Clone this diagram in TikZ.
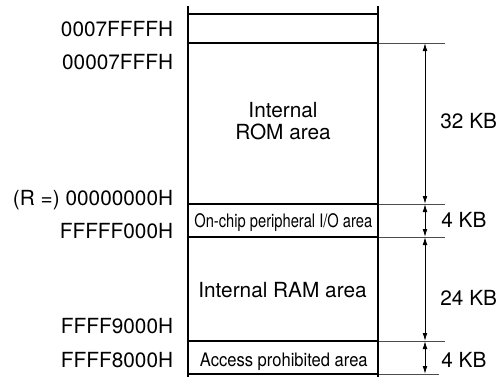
\documentclass[tikz,border=0pt]{standalone}
\usepackage{fontspec}
\setmainfont{TeX Gyre Heros}
\newfontfamily\ionarrow[FakeStretch=0.79]{TeX Gyre Heros}
\newfontfamily\accnarrow[FakeStretch=0.89]{TeX Gyre Heros}
\usetikzlibrary{arrows.meta}

\tikzset{
    wall/.style={black, line width=1.3pt},
    bnd/.style={black, line width=0.65pt},
    ext/.style={black!70, line width=0.45pt},
    dim/.style={black, line width=0.5pt, {Latex[length=4pt,width=2.4pt]}-{Latex[length=4pt,width=2.4pt]}},
    addr/.style={anchor=base east, inner sep=0pt, font=\fontsize{10.4}{11}\selectfont},
    size/.style={anchor=base west, inner sep=0pt, font=\fontsize{10.4}{11}\selectfont},
    area/.style={inner sep=0pt, font=\fontsize{10.4}{11}\selectfont},
}

\begin{document}
\begin{tikzpicture}[x=0.5pt,y=-0.5pt]
    \useasboundingbox (0,0) rectangle (499,377);

    % boundaries of the areas
    \foreach \n/\y in {0/14,1/43,2/204,3/237,4/341,5/374} {
        \coordinate (l\n) at (188,\y);
        \coordinate (r\n) at (378,\y);
        \coordinate (m\n) at (425,\y);
        \coordinate (e\n) at (445,\y);
    }
    \coordinate (e5) at (439,374);
    \draw [bnd] (l0) -- (r0);
    \foreach \n in {1,...,5} {
        \draw [bnd] (l\n) -- (r\n);
        \draw [ext] (r\n) -- (e\n);
    }

    % the two walls
    \coordinate (lt) at (188,6);
    \coordinate (lb) at (188,377);
    \coordinate (rt) at (378,6);
    \coordinate (rb) at (378,377);
    \draw [wall] (lt) -- (lb);
    \draw [wall] (rt) -- (rb);

    % sizes
    \foreach \a/\b in {1/2,2/3,3/4,4/5} {
        \draw [dim] (m\a) -- (m\b);
    }
    \node [size] (s1) at (440,128) {32 KB};
    \node [size] (s2) at (441,227) {4 KB};
    \node [size] (s3) at (440,305) {24 KB};
    \node [size] (s4) at (441,367) {4 KB};

    % addresses
    \foreach \n/\y/\t in {0/36/0007FFFFH,1/69/00007FFFH,2/205/(R =) 00000000H,
                          3/238/FFFFF000H,4/333/FFFF9000H,5/367/FFFF8000H} {
        \node [addr] (a\n) at (173.5,\y) {\t};
    }

    % area names
    \node [area, align=center] (rom) at (283,121.5) {Internal\\ROM area};
    \node [area, anchor=base, font=\fontsize{9.3}{11}\ionarrow] (io) at (283.3,227) {On-chip peripheral I/O area};
    \node [area, anchor=base] (ram) at (282.5,297) {Internal RAM area};
    \node [area, anchor=base, font=\fontsize{9.3}{11}\accnarrow] (acc) at (283.8,366) {Access prohibited area};
\end{tikzpicture}
\end{document}
